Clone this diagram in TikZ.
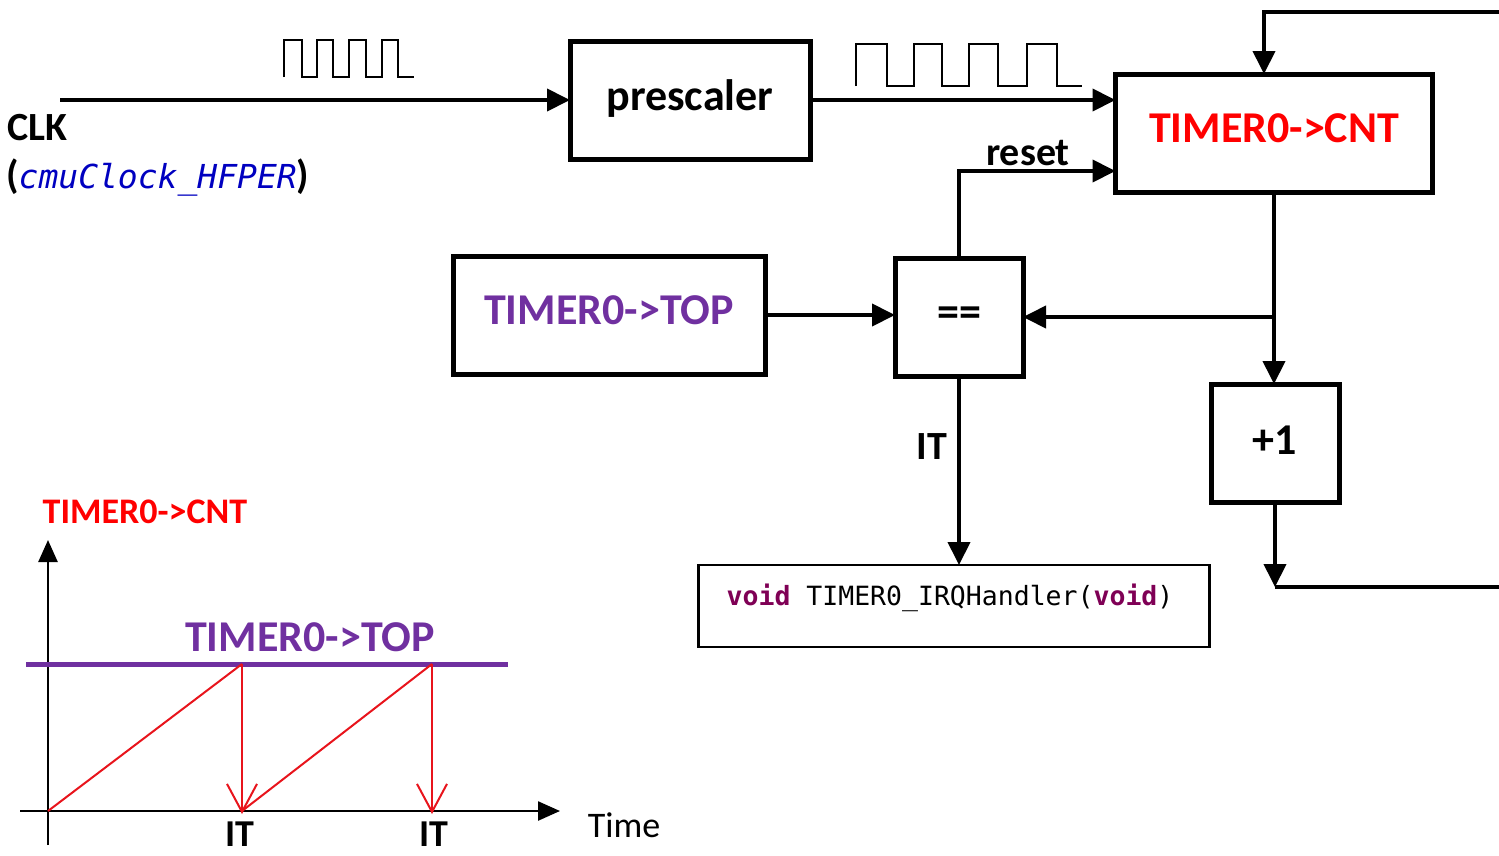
\documentclass[tikz,border=0pt]{standalone}
\usepackage{fontspec}
\setmainfont{Carlito}
\newfontfamily\codefont{DejaVu Sans Mono}
\usetikzlibrary{arrows.meta}
\definecolor{cntred}{HTML}{FF0000}
\definecolor{toppurple}{HTML}{7030A0}
\definecolor{kwpurple}{HTML}{7F0055}
\definecolor{fieldblue}{HTML}{0000C0}
\definecolor{rampred}{HTML}{E8141C}
\newcommand\FS[1]{\fontsize{#1}{#1}\selectfont}
\newcommand\UpTxt[1]{\raisebox{10pt}{#1}}
\tikzset{
  blk/.style={draw, line width=5pt, rectangle, inner sep=0pt, outer sep=0pt, font=\FS{44}\bfseries},
  conn/.style={line width=4pt, -{Triangle[length=23pt,width=22pt]}},
  wire/.style={line width=4pt},
  lbl/.style={inner sep=0pt, font=\FS{40}\bfseries},
  wave/.style={line width=2.5pt, line join=miter},
  axis/.style={line width=2.5pt, -{Triangle[length=22pt,width=19pt]}},
  ramp/.style={rampred, line width=2pt},
  drop/.style={rampred, line width=2pt, -{Straight Barb[length=28pt,width=30pt,line width=2pt]}},
}
\begin{document}
\begin{tikzpicture}[x=1pt,y=-1pt]
\useasboundingbox (0,0) rectangle (1499,855);

% blocks
\node[blk, minimum width=240pt, minimum height=118pt] (presc) at (690,100) {\UpTxt{prescaler}};
\node[blk, minimum width=317pt, minimum height=118pt, text=cntred] (cnt) at (1274,133) {\UpTxt{TIMER0->CNT}};
\node[blk, minimum width=312pt, minimum height=118pt, text=toppurple] (top) at (609,315) {\UpTxt{TIMER0->TOP}};
\node[blk, minimum width=128pt, minimum height=118pt] (eq) at (959,317) {==};
\node[blk, minimum width=128pt, minimum height=118pt] (plus) at (1275,443) {\raisebox{5pt}{+1}};
\node[draw, line width=2.5pt, rectangle, inner sep=0pt, outer sep=0pt, minimum width=511pt, minimum height=82pt] (irq) at (954,606) {};
\node[inner sep=0pt, font=\codefont\FS{26.5}] (irqtxt) at (950,598) {\textcolor{kwpurple}{\bfseries void} TIMER0\_IRQHandler(\textcolor{kwpurple}{\bfseries void})};

% labels
\node[lbl, anchor=west] (clk) at (7,128) {CLK};
\node[lbl, anchor=west] (clksrc) at (6,178) {(\textcolor{fieldblue}{\codefont\mdseries\itshape\FS{33}cmuClock\_HFPER})};
\node[lbl] (rstlbl) at (1028,153) {reset};
\node[lbl] (itlbl) at (932,447) {IT};

% coordinates
\coordinate (clkstart) at (60,100);
\coordinate (fbtop) at (1499,12);
\coordinate (loopend) at (1499,587);

% connectors
\draw[conn] (clkstart) -- (presc.west);
\draw[conn] (presc.east) -- (presc.east -| cnt.west);
\draw[conn] (eq.north) |- ([yshift=-38pt]cnt.west);
\draw[conn] (fbtop) -| ([xshift=-10pt]cnt.north);
\draw[conn] (cnt.south) -- (cnt.south |- plus.north);
\draw[conn] (cnt.south |- eq.east) -- (eq.east);
\draw[conn] (top.east) -- (top.east -| eq.west);
\draw[conn] (eq.south) -- (eq.south |- irq.north);
\draw[conn] (plus.south) -- (plus.south |- loopend);
\draw[wire] (plus.south |- loopend) -- (loopend);

% clock waveforms
\draw[wave] (284,77) -- (284,40) -- (302,40) -- (302,77) -- (317,77) -- (317,40) -- (333,40) -- (333,77)
  -- (349,77) -- (349,40) -- (366,40) -- (366,77) -- (382,77) -- (382,40) -- (398,40) -- (398,77) -- (414,77);
\draw[wave] (856,86) -- (856,44) -- (887,44) -- (887,86) -- (914,86) -- (914,44) -- (942,44) -- (942,86)
  -- (969,86) -- (969,44) -- (998,44) -- (998,86) -- (1027,86) -- (1027,44) -- (1057,44) -- (1057,86) -- (1082,86);

% timing graph
\coordinate (o) at (48,811);
\draw[axis] (48,845) -- (48,540);
\draw[axis] (20,811) -- (560,811);
\draw[toppurple, line width=5pt] (26,664) -- (508,664);
\coordinate (p1) at (242,664);
\coordinate (q1) at (242,811);
\coordinate (p2) at (432,664);
\coordinate (q2) at (432,811);
\draw[ramp] (o) -- (p1);
\draw[drop] (p1) -- ([yshift=-3pt]q1);
\draw[ramp] (q1) -- (p2);
\draw[drop] (p2) -- ([yshift=-3pt]q2);

\node[lbl, text=cntred, font=\FS{36}\bfseries] (gcnt) at (145,512) {TIMER0->CNT};
\node[lbl, text=toppurple, font=\FS{44}\bfseries] (gtop) at (310,637) {TIMER0->TOP};
\node[lbl, font=\FS{38}\bfseries] (it1) at (240,834) {IT};
\node[lbl, font=\FS{38}\bfseries] (it2) at (434,834) {IT};
\node[inner sep=0pt, font=\FS{36}] (time) at (624,825) {Time};
\end{tikzpicture}
\end{document}
